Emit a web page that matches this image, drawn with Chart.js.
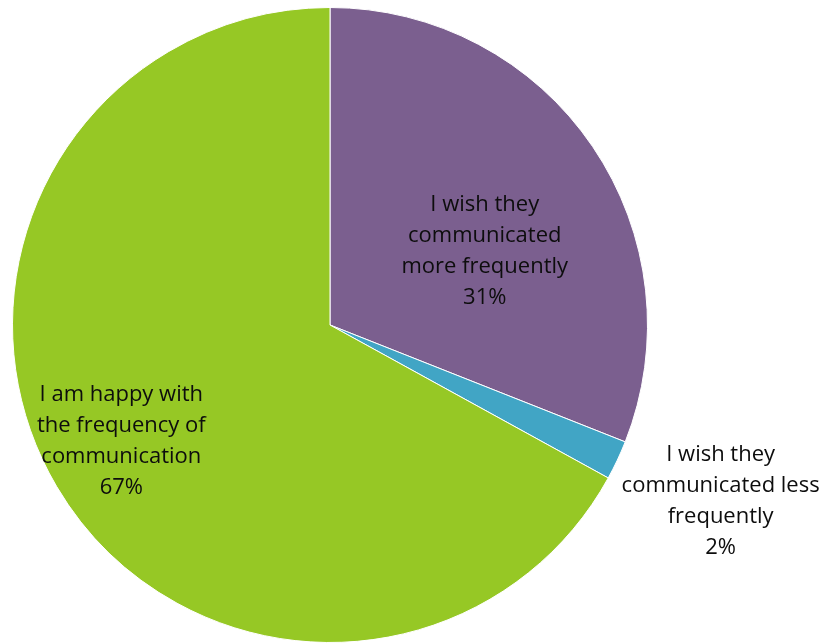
<!DOCTYPE html>
<html lang="en">
<head>
    <meta charset="UTF-8">
    <title>Communication Frequency</title>
    <script src="https://cdn.jsdelivr.net/npm/chart.js"></script>
    <style>
        html, body {
            margin: 0;
            padding: 0;
            background: #ffffff;
        }
        .container {
            width: 825px;
            height: 643px;
        }
    </style>
</head>
<body>
    <div class="container">
        <canvas id="pieChart"></canvas>
    </div>
    <script>
        // Survey answers
        const categories = [
            ['I wish they', 'communicated', 'more frequently'],
            ['I wish they', 'communicated less', 'frequently'],
            ['I am happy with', 'the frequency of', 'communication']
        ];
        const shares = [31, 2, 67];
        const colors = ['#7b5f8f', '#41a5c5', '#96c825'];

        // label placement: angle (deg, 0 = 3 o'clock) and distance as fraction of radius
        const labelSpots = [
            { angle: -25.5, dist: 0.54 },
            { angle: 24.3, dist: 1.35 },
            { angle: 150.8, dist: 0.753 }
        ];

        const sliceLabels = {
            id: 'sliceLabels',
            afterDatasetsDraw(chart) {
                const ctx = chart.ctx;
                const meta = chart.getDatasetMeta(0);
                ctx.save();
                ctx.font = '22px "Open Sans", sans-serif';
                ctx.fillStyle = '#0d0d0d';
                ctx.textAlign = 'center';
                ctx.textBaseline = 'middle';
                const lineH = 31;
                meta.data.forEach((arc, i) => {
                    const spot = labelSpots[i];
                    const a = spot.angle * Math.PI / 180;
                    const cx = arc.x + Math.cos(a) * arc.outerRadius * spot.dist;
                    const cy = arc.y + Math.sin(a) * arc.outerRadius * spot.dist;
                    const lines = categories[i].concat([shares[i] + '%']);
                    const top = cy - (lines.length - 1) * lineH / 2;
                    lines.forEach((t, k) => ctx.fillText(t, cx, top + k * lineH));
                });
                ctx.restore();
            }
        };

        const ctx = document.getElementById('pieChart').getContext('2d');
        const pieChart = new Chart(ctx, {
            type: 'pie',
            data: {
                labels: categories.map(c => c.join(' ')),
                datasets: [{
                    data: shares,
                    backgroundColor: colors,
                    borderColor: '#ffffff',
                    borderWidth: 1
                }]
            },
            options: {
                responsive: true,
                maintainAspectRatio: false,
                animation: false,
                layout: {
                    padding: { left: 12, top: 7, right: 177, bottom: 0 }
                },
                plugins: {
                    legend: { display: false },
                    tooltip: { enabled: false }
                }
            },
            plugins: [sliceLabels]
        });
    </script>
</body>
</html>
